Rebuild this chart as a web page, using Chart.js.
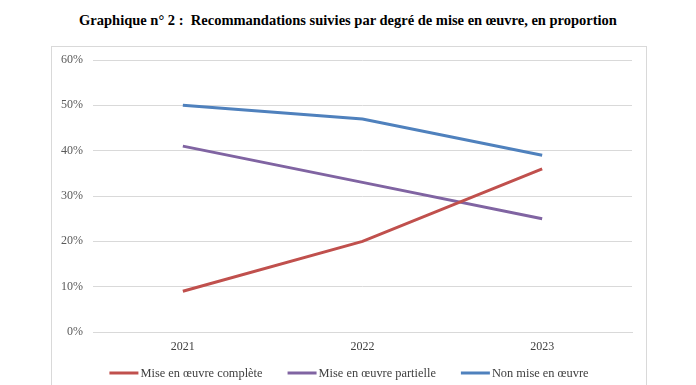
<!DOCTYPE html>
<html><head><meta charset="utf-8">
<script src="https://cdn.jsdelivr.net/npm/chart.js@4/dist/chart.umd.min.js"></script>
<style>
html,body{margin:0;padding:0;background:#fff;width:696px;height:385px;overflow:hidden;}
#title{position:absolute;left:0;top:12px;width:696px;text-align:center;font:bold 14.5px "Liberation Serif","Times New Roman",serif;color:#000;white-space:pre;}
#box{position:absolute;left:51px;top:46px;width:594px;height:360px;border:1px solid #d9d9d9;}
#wrap{position:absolute;left:52px;top:47px;width:594px;height:338px;}
</style></head>
<body>
<div id="title">Graphique n° 2 :  Recommandations suivies par degré de mise en œuvre, en proportion</div>
<div id="box"></div>
<div id="wrap"><canvas id="c"></canvas></div>
<script>
const categories = ["2021", "2022", "2023"];
const miseComplete = [9, 20, 36];
const misePartielle = [41, 33, 25];
const nonMise = [50, 47, 39];
const seriesNames = ["Mise en œuvre complète", "Mise en œuvre partielle", "Non mise en œuvre"];
const yTicks = [0, 10, 20, 30, 40, 50, 60];

const colors = ["#c0504d", "#8064a2", "#4f81bd"];
const fontFamily = "'Liberation Serif','Times New Roman',serif";
const font = {family: fontFamily, size: 12};

// Legend drawn from the chart's datasets, laid out like the reference
const bottomLegend = {
  id: 'bottomLegend',
  afterDraw(chart) {
    const ctx = chart.ctx;
    const lineLen = 29, gapText = 2, gapItem = 25;
    const cy = 326;
    ctx.save();
    ctx.font = "12.4px " + fontFamily;
    ctx.textBaseline = 'middle';
    const items = chart.data.datasets.map(ds => ({ds, w: ctx.measureText(ds.label).width}));
    let total = 0;
    items.forEach((it, i) => { total += lineLen + gapText + it.w + (i ? gapItem : 0); });
    let x = (chart.width - total) / 2;
    items.forEach((it, i) => {
      if (i) x += gapItem;
      ctx.strokeStyle = it.ds.borderColor;
      ctx.lineWidth = 3;
      ctx.beginPath(); ctx.moveTo(x, cy); ctx.lineTo(x + lineLen, cy); ctx.stroke();
      x += lineLen + gapText;
      ctx.fillStyle = '#404040';
      ctx.fillText(it.ds.label, x, cy + 1);
      x += it.w;
    });
    ctx.restore();
  }
};

new Chart(document.getElementById('c'), {
  type: 'line',
  data: {
    labels: categories,
    datasets: [miseComplete, misePartielle, nonMise].map((d, i) => ({
      label: seriesNames[i], data: d, borderColor: colors[i], backgroundColor: colors[i],
      borderWidth: 3, pointRadius: 0, tension: 0, fill: false
    }))
  },
  options: {
    responsive: true, maintainAspectRatio: false, animation: false,
    layout: {padding: {left: 0, right: 14, top: 13, bottom: 23}},
    plugins: {
      title: {display: false},
      tooltip: {enabled: false},
      legend: {display: false}
    },
    scales: {
      x: {
        offset: true,
        afterFit: (s) => { s.height = 30; },
        grid: {display: false, drawTicks: false},
        border: {display: true, color: '#d9d9d9', width: 1},
        ticks: {color: '#404040', font: font, padding: 8}
      },
      y: {
        min: 0, max: 60,
        afterFit: (s) => { s.width = 41; s.paddingTop = 0; s.paddingBottom = 0; },
        afterBuildTicks: (s) => { s.ticks = yTicks.map(v => ({value: v})); },
        grid: {color: '#d9d9d9', drawTicks: false, lineWidth: 1},
        border: {display: false},
        ticks: {color: '#595959', font: font, padding: 10, callback: v => v + '%'}
      }
    }
  },
  plugins: [bottomLegend]
});
</script>
</body></html>
